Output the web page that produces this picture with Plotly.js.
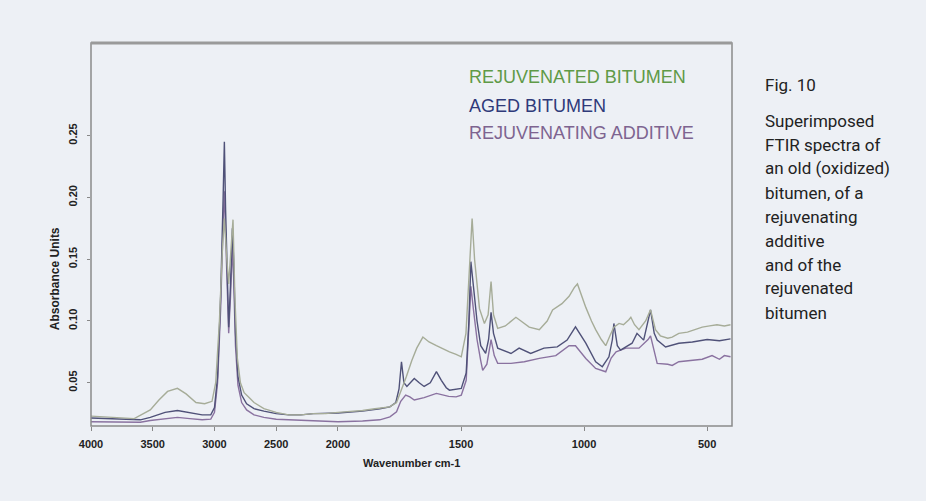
<!DOCTYPE html>
<html>
<head>
<meta charset="utf-8">
<script src="https://cdn.plot.ly/plotly-3.0.1.min.js"></script>
<style>
html,body{margin:0;padding:0;background:#edf0f5;}
#chart{width:926px;height:501px;}
</style>
</head>
<body>
<div id="chart"></div>
<script>
// ---- Data ----
const seriesNames = ["REJUVENATED BITUMEN", "AGED BITUMEN", "REJUVENATING ADDITIVE"];

const rejuvWn = [4000,3800,3650,3520,3450,3380,3300,3230,3150,3080,3020,2990,2960,2935,2920,2900,2885,2865,2850,2835,2815,2790,2760,2720,2680,2600,2500,2400,2300,2200,2100,2000,
  1900,1850,1790,1762,1740,1722,1700,1680,1655,1630,1600,1570,1547,1520,1499,1480,1465,1455,1445,1425,1405,1390,1378,1368,1351,1320,1277,1250,1223,1182,1150,1128,1090,1061,1040,1027,1010,993,970,953,930,912,895,879,858,840,818,810,795,777,750,730,710,690,660,642,615,580,550,520,490,460,430,405];
const rejuvAbs = [0.023,0.022,0.021,0.028,0.036,0.043,0.0455,0.041,0.034,0.033,0.035,0.050,0.100,0.160,0.183,0.150,0.130,0.160,0.182,0.120,0.070,0.050,0.042,0.038,0.034,0.029,0.026,0.024,0.024,0.025,0.025,0.026,
  0.0275,0.029,0.0305,0.034,0.045,0.055,0.068,0.078,0.087,0.083,0.080,0.077,0.075,0.073,0.071,0.090,0.150,0.183,0.150,0.110,0.098,0.105,0.132,0.105,0.094,0.096,0.103,0.099,0.095,0.093,0.100,0.109,0.114,0.120,0.127,0.130,0.120,0.111,0.100,0.093,0.085,0.080,0.088,0.095,0.098,0.097,0.101,0.103,0.097,0.093,0.100,0.109,0.093,0.088,0.086,0.087,0.090,0.091,0.093,0.095,0.096,0.097,0.096,0.097];

const agedWn = [4000,3800,3600,3520,3400,3300,3200,3100,3030,3000,2975,2950,2930,2920,2910,2895,2885,2870,2855,2845,2830,2810,2780,2740,2680,2600,2500,2400,2300,2200,2100,2000,
  1900,1830,1789,1765,1752,1742,1732,1720,1708,1690,1670,1650,1625,1600,1580,1560,1547,1520,1499,1479,1468,1460,1450,1435,1420,1400,1388,1378,1368,1351,1297,1264,1217,1163,1109,1069,1035,993,953,926,899,885,879,865,852,805,785,758,730,715,703,669,615,560,500,450,405];
const agedAbs = [0.0215,0.0205,0.020,0.022,0.026,0.0275,0.026,0.024,0.024,0.030,0.055,0.120,0.200,0.245,0.190,0.120,0.095,0.130,0.175,0.150,0.090,0.055,0.040,0.033,0.029,0.027,0.025,0.024,0.024,0.025,0.025,0.0255,
  0.027,0.029,0.0305,0.034,0.045,0.067,0.050,0.047,0.0495,0.0535,0.050,0.047,0.050,0.059,0.052,0.046,0.044,0.0445,0.0454,0.058,0.100,0.148,0.130,0.100,0.080,0.0738,0.085,0.107,0.090,0.078,0.0737,0.078,0.0737,0.078,0.079,0.0845,0.0953,0.082,0.067,0.063,0.071,0.085,0.098,0.080,0.0764,0.082,0.090,0.0845,0.109,0.090,0.0845,0.079,0.082,0.083,0.085,0.084,0.0855];

const addWn = [4000,3800,3600,3520,3400,3300,3200,3100,3030,3000,2975,2950,2930,2920,2910,2895,2885,2870,2855,2845,2830,2810,2780,2740,2680,2600,2500,2400,2300,2200,2100,2000,
  1900,1830,1789,1762,1745,1725,1708,1690,1650,1600,1550,1520,1499,1479,1468,1460,1450,1435,1420,1412,1395,1378,1365,1351,1297,1243,1182,1115,1061,1035,993,953,912,890,870,830,777,740,730,715,703,660,642,615,560,520,480,450,430,405];
const addAbs = [0.0185,0.018,0.018,0.0195,0.021,0.022,0.021,0.020,0.0205,0.026,0.050,0.110,0.180,0.205,0.170,0.110,0.090,0.120,0.160,0.135,0.080,0.048,0.034,0.028,0.024,0.022,0.0205,0.020,0.0195,0.019,0.0185,0.0185,
  0.019,0.020,0.0224,0.0265,0.035,0.040,0.0386,0.036,0.038,0.0414,0.039,0.0386,0.040,0.052,0.090,0.128,0.110,0.085,0.068,0.060,0.065,0.085,0.072,0.0657,0.0657,0.067,0.0697,0.072,0.080,0.080,0.0697,0.0616,0.0589,0.070,0.075,0.078,0.078,0.085,0.088,0.075,0.0657,0.065,0.064,0.067,0.068,0.069,0.072,0.069,0.072,0.071];

const ytickVals = [0.05,0.10,0.15,0.20,0.25];
const ytickText = ["0.05","0.10","0.15","0.20","0.25"];
const xtickValsHigh = [4000,3500,3000,2500,2000];
const xtickTextHigh = ["4000","3500","3000","2500","2000"];
const xtickValsLow = [1500,1000,500];
const xtickTextLow = ["1500","1000","500"];

const captionLines = ["Fig. 10","Superimposed","FTIR spectra of","an old (oxidized)","bitumen, of a","rejuvenating","additive","and of the","rejuvenated","bitumen"];

// ---- Styling ----
const lineColors = ["#a6ac98","#4f5178","#8a72a0"];
const labelColors = ["#5f9a47","#2f3a7a","#7d6490"];
const BG = "#edf0f5";
const split = 0.3853;

function part(wn, ab, lo, hi){
  const x=[], y=[];
  for(let i=0;i<wn.length;i++){ if(wn[i]>=lo && wn[i]<=hi){ x.push(wn[i]); y.push(ab[i]); } }
  return {x, y};
}

const all = [[rejuvWn,rejuvAbs],[agedWn,agedAbs],[addWn,addAbs]];
const traces = [];
// draw order: additive, aged, rejuvenated on top
[2,1,0].forEach(k=>{
  const [wn,ab] = all[k];
  const hi = part(wn,ab,2000,4000);
  const lo = part(wn,ab,0,2000);
  traces.push({x:hi.x,y:hi.y,xaxis:"x",yaxis:"y",type:"scatter",mode:"lines",name:seriesNames[k],showlegend:false,line:{color:lineColors[k],width:1.4}});
  traces.push({x:lo.x,y:lo.y,xaxis:"x2",yaxis:"y",type:"scatter",mode:"lines",name:seriesNames[k],showlegend:false,line:{color:lineColors[k],width:1.4}});
});

const tickFont = {family:"Liberation Sans, Arial, sans-serif", size:11, color:"#222", weight:"bold"};

const annotations = [];
// legend texts
const legY = [0.912, 0.8355, 0.765];
seriesNames.forEach((n,i)=>{
  annotations.push({xref:"paper",yref:"paper",x:0.5866,y:legY[i],xanchor:"left",yanchor:"middle",showarrow:false,text:n,
    font:{family:"Liberation Sans, Arial, sans-serif",size:18,color:labelColors[i]}});
});
// axis titles
annotations.push({xref:"paper",yref:"paper",x:0.5,y:-0.097,xanchor:"center",yanchor:"middle",showarrow:false,text:"Wavenumber cm-1",
  font:{family:"Liberation Sans, Arial, sans-serif",size:11,color:"#222",weight:"bold"}});
annotations.push({xref:"paper",yref:"paper",x:-0.0562,y:0.386,xanchor:"center",yanchor:"middle",textangle:-90,showarrow:false,text:"Absorbance Units",
  font:{family:"Liberation Sans, Arial, sans-serif",size:12,color:"#222",weight:"bold"}});
// caption
const capY = [85,120.7,145,168.3,192.7,216.7,240.7,265,288,312.7];
captionLines.forEach((t,i)=>{
  annotations.push({xref:"paper",yref:"paper",x:(763-91)/641,y:(426-capY[i])/383,xanchor:"left",yanchor:"middle",showarrow:false,text:t,
    font:{family:"Liberation Sans Narrow, Arial Narrow, Roboto, sans-serif",size:17,color:"#222"}});
});

const layout = {
  width:926, height:501,
  paper_bgcolor:BG, plot_bgcolor:BG,
  margin:{l:91,r:194,t:43,b:75,pad:0},
  showlegend:false,
  xaxis:{domain:[0,split],range:[4000,2000],tickmode:"array",tickvals:xtickValsHigh,ticktext:xtickTextHigh,
    ticks:"outside",ticklen:4,tickcolor:"#888",showgrid:false,zeroline:false,showline:false,tickfont:tickFont,ticklabelstandoff:4,anchor:"y"},
  xaxis2:{domain:[split,1],range:[2000,399],tickmode:"array",tickvals:xtickValsLow,ticktext:xtickTextLow,
    ticks:"outside",ticklen:4,tickcolor:"#888",showgrid:false,zeroline:false,showline:false,tickfont:tickFont,ticklabelstandoff:4,anchor:"y"},
  yaxis:{range:[0.015,0.325],tickmode:"array",tickvals:ytickVals,ticktext:ytickText,tickangle:-90,
    ticks:"outside",ticklen:3,tickcolor:"#888",showgrid:false,zeroline:false,showline:false,tickfont:tickFont,ticklabelstandoff:6,anchor:"x"},
  shapes:[
    {type:"rect",xref:"paper",yref:"paper",x0:0,x1:1,y0:0,y1:1,line:{color:"#8a8a8a",width:1.5},fillcolor:"rgba(0,0,0,0)",layer:"above"},
    {type:"line",xref:"paper",yref:"paper",x0:0,x1:1,y0:1,y1:1,line:{color:"#9a9a9a",width:3},layer:"above"}
  ],
  annotations:annotations
};

Plotly.newPlot("chart", traces, layout, {staticPlot:true, displayModeBar:false});
</script>
</body>
</html>
